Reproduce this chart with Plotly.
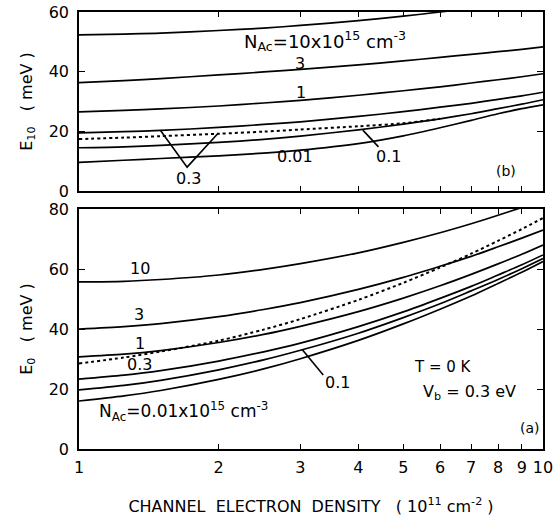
import plotly.graph_objects as go

# ---------------- data ----------------
density = [1, 1.25, 1.5, 2, 2.5, 3, 4, 5, 6, 7, 8, 9, 10]   # 10^11 cm^-2

# panel (b): E10 (meV)
e10_n10 = [52.3, 52.6, 52.9, 53.8, 54.6, 55.5, 57.1, 58.6, 60.0, 61.2, 62.4, 63.5, 64.5]
e10_n3 = [36.3, 37.0, 37.7, 38.9, 39.9, 40.8, 42.3, 43.6, 44.8, 45.8, 46.7, 47.5, 48.3]
e10_n1 = [26.5, 27.0, 27.5, 28.5, 29.5, 30.4, 32.1, 33.6, 34.9, 36.2, 37.3, 38.3, 39.3]
e10_n03 = [19.5, 19.9, 20.3, 21.3, 22.3, 23.2, 25.0, 26.6, 28.1, 29.4, 30.7, 31.9, 33.1]
e10_n01 = [14.5, 14.8, 15.3, 16.3, 17.3, 18.4, 20.5, 22.4, 24.2, 25.9, 27.6, 29.1, 30.6]
e10_n001 = [9.6, 10.3, 10.9, 11.8, 12.7, 13.7, 15.9, 18.5, 21.2, 23.7, 25.9, 27.6, 28.9]
e10_dot_density = [1, 1.25, 1.5, 2, 2.5, 3, 4, 5, 6]
e10_dot = [17.4, 17.9, 18.4, 19.2, 19.9, 20.6, 21.7, 22.7, 24.2]

# panel (a): E0 (meV)
e0_n10 = [55.7, 55.9, 56.5, 58.0, 59.9, 61.8, 65.4, 68.9, 72.1, 75.1, 77.9, 80.5, 83.0]
e0_n3 = [40.0, 40.8, 41.8, 44.1, 46.5, 48.8, 53.2, 57.2, 60.9, 64.2, 67.4, 70.3, 73.0]
e0_n1 = [30.7, 31.6, 32.8, 35.5, 38.2, 40.9, 45.8, 50.3, 54.4, 58.2, 61.7, 64.9, 68.0]
e0_n03 = [23.3, 24.6, 26.1, 29.3, 32.4, 35.3, 40.8, 45.7, 50.2, 54.2, 58.0, 61.4, 64.7]
e0_n01 = [19.7, 21.2, 22.9, 26.4, 29.7, 32.9, 38.6, 43.8, 48.4, 52.7, 56.5, 60.1, 63.5]
e0_n001 = [16.0, 17.7, 19.5, 23.2, 26.7, 30.1, 36.2, 41.7, 46.6, 51.0, 55.2, 58.9, 62.5]
e0_dot = [28.5, 30.5, 32.5, 36.1, 39.8, 43.3, 49.7, 55.4, 60.5, 65.1, 69.4, 73.3, 77.0]

x_tick_vals = [1, 2, 3, 4, 5, 6, 7, 8, 9, 10]
x_tick_text = ["1", "2", "3", "4", "5", "6", "7", "8", "9", "10"]
y_top_ticks = [0, 20, 40, 60]
y_bot_ticks = [0, 20, 40, 60, 80]

# leader lines for labels (x in 10^11 cm^-2, y in meV)
lead_top_03_x = [1.50, 1.71, 1.99]
lead_top_03_y = [20.2, 8.0, 19.2]
lead_top_01_x = [4.09, 4.42]
lead_top_01_y = [20.4, 14.8]
lead_bot_01_x = [3.03, 3.36]
lead_bot_01_y = [33.1, 24.7]

# ---------------- figure ----------------
FONT = "DejaVu Sans, Liberation Sans, Arial, sans-serif"
W, H = 556, 518
L, R, T, B = 79, 13, 12, 69
PX0, PX1 = L, W - R
PY0, PY1 = T, H - B
NB = "\u00a0"


def px(x):
    return (x - PX0) / (PX1 - PX0)


def py(y):
    return (PY1 - y) / (PY1 - PY0)


fig = go.Figure()
solid = dict(color="black", width=1.7, shape="spline", smoothing=0.8)
dotted = dict(color="black", width=2.0, dash="dot", shape="spline", smoothing=0.8)

for ys in [e10_n10, e10_n3, e10_n1, e10_n03, e10_n01, e10_n001]:
    fig.add_trace(go.Scatter(x=density, y=ys, mode="lines", line=solid,
                             xaxis="x2", yaxis="y2", showlegend=False))
fig.add_trace(go.Scatter(x=e10_dot_density, y=e10_dot, mode="lines", line=dotted,
                         xaxis="x2", yaxis="y2", showlegend=False))

for ys in [e0_n10, e0_n3, e0_n1, e0_n03, e0_n01, e0_n001]:
    fig.add_trace(go.Scatter(x=density, y=ys, mode="lines", line=solid,
                             xaxis="x", yaxis="y", showlegend=False))
fig.add_trace(go.Scatter(x=density, y=e0_dot, mode="lines", line=dotted,
                         xaxis="x", yaxis="y", showlegend=False))

lead = dict(color="black", width=1.6)
fig.add_trace(go.Scatter(x=lead_top_03_x, y=lead_top_03_y, mode="lines", line=lead,
                         xaxis="x2", yaxis="y2", showlegend=False))
fig.add_trace(go.Scatter(x=lead_top_01_x, y=lead_top_01_y, mode="lines", line=lead,
                         xaxis="x2", yaxis="y2", showlegend=False))
fig.add_trace(go.Scatter(x=lead_bot_01_x, y=lead_bot_01_y, mode="lines", line=lead,
                         xaxis="x", yaxis="y", showlegend=False))

axis_common = dict(showline=True, linecolor="black", linewidth=1.5, mirror="allticks",
                   ticks="inside", tickcolor="black", showgrid=False, zeroline=False,
                   automargin=False,
                   tickfont=dict(family=FONT, size=16, color="black"))

top_dom = [py(191), 1.0]
bot_dom = [0.0, py(209)]

xtitle = ("CHANNEL" + NB * 2 + "ELECTRON" + NB * 2 + "DENSITY" + NB * 3 + "(" + NB
          + "10<sup>11</sup>" + NB + "cm<sup>-2</sup>" + NB + ")")

fig.update_layout(
    width=W, height=H,
    margin=dict(l=L, r=R, t=T, b=B, pad=0),
    paper_bgcolor="white", plot_bgcolor="white",
    font=dict(family=FONT, color="black"),
    xaxis=dict(type="log", range=[0, 1], domain=[0, 1], anchor="y",
               tickvals=x_tick_vals, ticktext=x_tick_text, ticklen=5,
               ticklabelstandoff=3,
               title=dict(text=xtitle, font=dict(family=FONT, size=16), standoff=25),
               **axis_common),
    yaxis=dict(range=[0, 80], domain=bot_dom, anchor="x", tickvals=y_bot_ticks, ticklen=6,
               ticklabelstandoff=5,
               title=dict(text="E<sub>0</sub>" + NB * 3 + "(" + NB + "meV" + NB + ")",
                          font=dict(family=FONT, size=16), standoff=12),
               **axis_common),
    xaxis2=dict(type="log", range=[0, 1], domain=[0, 1], anchor="y2", matches="x",
                tickvals=x_tick_vals, showticklabels=False, ticklen=5, **axis_common),
    yaxis2=dict(range=[0, 60], domain=top_dom, anchor="x2", tickvals=y_top_ticks, ticklen=6,
                ticklabelstandoff=5,
                title=dict(text="E<sub>10</sub>" + NB * 3 + "(" + NB + "meV" + NB + ")",
                           font=dict(family=FONT, size=16), standoff=12),
                **axis_common),
)

ann = []


def label(text, x, y, size=16, xanchor="center"):
    ann.append(dict(text=text, x=px(x), y=py(y), xref="paper", yref="paper",
                    showarrow=False, xanchor=xanchor, yanchor="middle",
                    font=dict(family=FONT, size=size, color="black")))


# panel (b)
label("N<sub>Ac</sub>=10x10<sup>15</sup>" + NB + "cm<sup>-3</sup>", 242, 41, size=18, xanchor="left")
label("3", 300, 64)
label("1", 301, 93)
label("0.3", 188, 178)
label("0.01", 295, 156)
label("0.1", 388, 156)
label("(b)", 506, 171, size=14)
# panel (a)
label("10", 140, 268)
label("3", 139, 314)
label("1", 140, 343)
label("0.3", 139, 364)
label("N<sub>Ac</sub>=0.01x10<sup>15</sup>" + NB + "cm<sup>-3</sup>", 97, 411, size=17, xanchor="left")
label("0.1", 337, 382)
label("T = 0 K", 443, 367, size=15)
label("V<sub>b</sub> = 0.3 eV", 469, 392)
label("(a)", 530, 428, size=14)

fig.update_layout(annotations=ann)
fig.write_html("out.html", config={"displayModeBar": False},
               post_script="document.body.style.margin='0px';")
